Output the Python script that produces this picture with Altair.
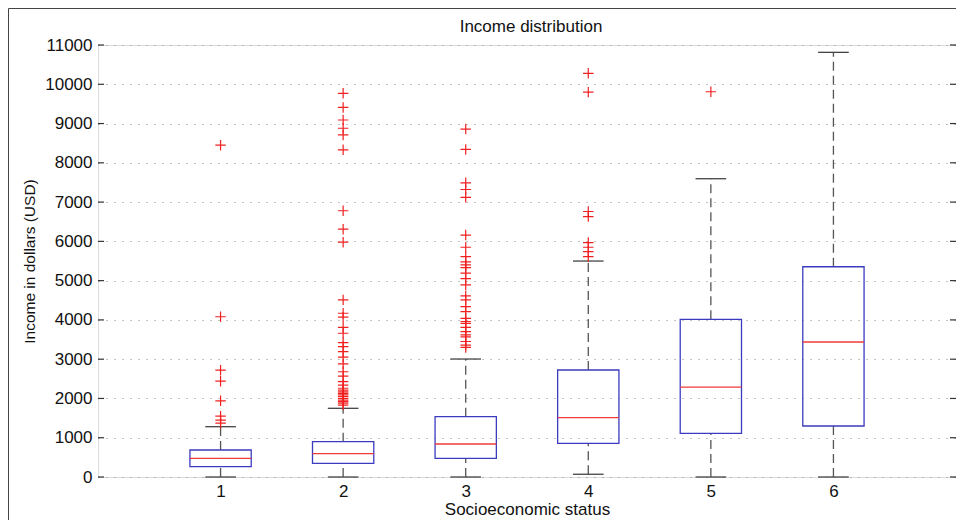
import altair as alt
import pandas as pd

# ---- data ----
cats = [1, 2, 3, 4, 5, 6]
q1 = [262, 348, 476, 857, 1113, 1298]
med = [476, 593, 840, 1510, 2291, 3437]
q3 = [687, 899, 1536, 2724, 4015, 5354]
lo = [0, 0, 0, 70, 0, 0]
hi = [1281, 1749, 3004, 5499, 7595, 10813]

out1 = [8450, 4080, 2720, 2440, 1940, 1550, 1450, 1370]
out2 = [9770, 9410, 9090, 8880, 8710, 8330, 6780, 6310, 5980, 4510, 4170, 4070,
        3810, 3660, 3420, 3320, 3190, 3050, 2880, 2680, 2570, 2430, 2340, 2260,
        2210, 2170, 2130, 2090, 2050, 2000, 1960, 1920, 1880, 1830]
out3 = [8860, 8340, 7490, 7320, 7120, 6160, 5850, 5610, 5480, 5400, 5330, 5190,
        5050, 4890, 4610, 4510, 4340, 4210, 4040, 3960, 3910, 3810, 3700, 3620,
        3570, 3450, 3360, 3300]
out4 = [10280, 9800, 6760, 6630, 5970, 5850, 5740, 5610]
out5 = [9810]
out6 = []

y_ticks = list(range(0, 12000, 1000))
x_ticks = [1, 2, 3, 4, 5, 6]
title_text = ["Income distribution"]

W, H = 858, 432
FONT = "Liberation Sans"

box_df = pd.DataFrame(dict(cat=cats, q1=q1, med=med, q3=q3, lo=lo, hi=hi))
box_df["left"] = box_df["cat"] - 0.25
box_df["right"] = box_df["cat"] + 0.25
box_df["capl"] = box_df["cat"] - 0.125
box_df["capr"] = box_df["cat"] + 0.125

rows = []
for c, vals in zip(cats, [out1, out2, out3, out4, out5, out6]):
    for v in vals:
        rows.append({"cat": c, "v": v})
out_df = pd.DataFrame(rows)
tick_df = pd.DataFrame({"v": y_ticks})
dummy = pd.DataFrame({"t": title_text})

xs = alt.Scale(domain=[0, 7], nice=False, zero=False)
ys = alt.Scale(domain=[0, 11000], nice=False, zero=False)

xaxis = alt.Axis(values=x_ticks, title="Socioeconomic status", grid=False, ticks=False,
                 domain=False, labelFontSize=17, titleFontSize=17, labelFont=FONT,
                 titleFont=FONT, titleFontWeight="normal", labelColor="#111",
                 titleColor="#111", labelPadding=6, titlePadding=2, format="d")
yaxis = alt.Axis(values=y_ticks, title="Income in dollars (USD)", grid=True,
                 gridDash=[1, 7], gridColor="#888", gridWidth=1, ticks=False,
                 domain=False, labelFontSize=17, titleFontSize=15.5, labelFont=FONT,
                 titleFont=FONT, titleFontWeight="normal", labelColor="#111",
                 titleColor="#111", labelPadding=6, titlePadding=7, format="d")


def X(f):
    return alt.X(f, scale=xs, axis=xaxis)


def Y(f):
    return alt.Y(f, scale=ys, axis=yaxis)


base = alt.Chart(box_df)

whisk_up = base.mark_rule(color="#555", strokeDash=[9, 5], strokeWidth=1.3).encode(
    x=X("cat:Q"), y=Y("q3:Q"), y2="hi:Q")
whisk_lo = base.mark_rule(color="#555", strokeDash=[9, 5], strokeWidth=1.3).encode(
    x=X("cat:Q"), y=Y("lo:Q"), y2="q1:Q")
cap_hi = base.mark_rule(color="#444", strokeWidth=1.3).encode(
    x=X("capl:Q"), x2="capr:Q", y=Y("hi:Q"))
cap_lo = base.mark_rule(color="#444", strokeWidth=1.3).encode(
    x=X("capl:Q"), x2="capr:Q", y=Y("lo:Q"))
box = base.mark_rect(fillOpacity=0, stroke="#3b3bc0", strokeWidth=1.3).encode(
    x=X("left:Q"), x2="right:Q", y=Y("q1:Q"), y2="q3:Q")
median = base.mark_rule(color="#f03a3a", strokeWidth=1.3).encode(
    x=X("left:Q"), x2="right:Q", y=Y("med:Q"))

outl = alt.Chart(out_df).mark_point(
    shape="M -1 0 L 1 0 M 0 -1 L 0 1", filled=False, color="#f02020",
    size=110, strokeWidth=1.2, opacity=1).encode(x=X("cat:Q"), y=Y("v:Q"))

tick_l = alt.Chart(tick_df).mark_rule(color="#333", strokeWidth=1.2).encode(
    x=alt.value(0), x2=alt.value(6), y=Y("v:Q"))
tick_r = alt.Chart(tick_df).mark_rule(color="#333", strokeWidth=1.2).encode(
    x=alt.value(W - 6), x2=alt.value(W), y=Y("v:Q"))

# chart title as a text mark (so it is not pushed above the outer frame)
title = alt.Chart(dummy).mark_text(
    font=FONT, fontSize=17, color="#111", align="center", baseline="alphabetic"
).encode(x=alt.value(W / 2 + 4), y=alt.value(-13), text="t:N")

# outer figure frame
frame_l = alt.Chart(dummy).mark_rule(color="#444", strokeWidth=1).encode(
    x=alt.value(-89.5), y=alt.value(-36.5), y2=alt.value(H + 43))
frame_t = alt.Chart(dummy).mark_rule(color="#444", strokeWidth=1).encode(
    x=alt.value(-89.5), x2=alt.value(W + 10), y=alt.value(-36.5))

chart = alt.layer(
    whisk_up, whisk_lo, cap_hi, cap_lo, box, median, outl, tick_l, tick_r,
    title, frame_l, frame_t
).properties(
    width=W, height=H,
    autosize=alt.AutoSizeParams(type="none"),
    padding={"left": 90, "top": 37, "right": 0, "bottom": 43},
).configure_view(
    stroke="#222", strokeWidth=1.6
).configure(background="white")

chart.save("out.html", embed_options={"renderer": "svg", "actions": False})
